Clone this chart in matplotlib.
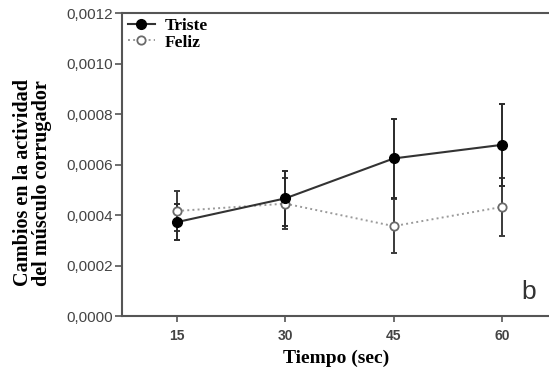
import numpy as np
import matplotlib
matplotlib.use('Agg')
import matplotlib.pyplot as plt

# data
tiempo = [15, 30, 45, 60]
triste = [0.000372, 0.000466, 0.000624, 0.000678]
triste_err = [0.000072, 0.000110, 0.000158, 0.000163]
feliz = [0.000416, 0.000445, 0.000356, 0.000432]
feliz_err = [0.000078, 0.000101, 0.000108, 0.000114]

y_ticks = [0.0, 0.0002, 0.0004, 0.0006, 0.0008, 0.0010, 0.0012]
y_tick_labels = ['0,0000', '0,0002', '0,0004', '0,0006', '0,0008', '0,0010', '0,0012']

serif = ['Liberation Serif', 'DejaVu Serif']
sans = ['Liberation Sans', 'DejaVu Sans']

fig = plt.figure(figsize=(5.49, 3.73), dpi=100)
ax = fig.add_axes([0.2231, 0.1528, 0.7769, 0.8123])

# Feliz: dotted light line, open grey circles
ax.errorbar(tiempo, feliz, yerr=feliz_err, fmt='none', ecolor='#3a3a3a',
            elinewidth=1.4, capsize=2.5, capthick=1.4, zorder=2)
ax.plot(tiempo, feliz, linestyle=':', color='#9a9a9a', linewidth=1.4,
        marker='o', markersize=6, markerfacecolor='white',
        markeredgecolor='#6a6a6a', markeredgewidth=1.3, label='Feliz', zorder=3)

# Triste: solid dark line, filled circles
ax.errorbar(tiempo, triste, yerr=triste_err, fmt='none', ecolor='#2a2a2a',
            elinewidth=1.4, capsize=2.5, capthick=1.4, zorder=2)
ax.plot(tiempo, triste, linestyle='-', color='#333333', linewidth=1.5,
        marker='o', markersize=7, markerfacecolor='black',
        markeredgecolor='black', label='Triste', zorder=4)

ax.set_xlim(7.45, 66.5)
ax.set_ylim(0, 0.0012)
ax.set_xticks(tiempo)
ax.set_xticklabels([str(t) for t in tiempo], family=sans, fontsize=10,
                   color='#444444', fontweight='bold')
ax.set_yticks(y_ticks)
ax.set_yticklabels(y_tick_labels, family=sans, fontsize=11, color='#444444')
ax.tick_params(axis='y', direction='out', length=5, width=1.2,
               color='#555555', pad=2)
ax.tick_params(axis='x', direction='out', length=4, width=1.2,
               color='#555555', pad=5)

for side in ['left', 'bottom', 'top']:
    ax.spines[side].set_color('#555555')
    ax.spines[side].set_linewidth(1.5)
ax.spines['right'].set_visible(False)

ax.set_xlabel('Tiempo (sec)', family=serif, fontweight='bold', fontsize=14,
              labelpad=5)
ax.set_ylabel('Cambios en la actividad\ndel músculo corrugador', family=serif,
              fontweight='bold', fontsize=14.5, linespacing=0.92)
ax.yaxis.set_label_coords(-0.165, 0.44)

handles, labels = ax.get_legend_handles_labels()
ax.legend(handles[::-1], labels[::-1], loc='upper left', frameon=False,
          prop={'family': serif, 'weight': 'bold', 'size': 12.5},
          handlelength=1.55, handletextpad=0.6, labelspacing=0.0,
          borderaxespad=0.1, borderpad=0.2)

ax.text(0.953, 0.078, 'b', transform=ax.transAxes, family=sans, fontsize=19,
        color='#333333', ha='center', va='center')

plt.savefig('out.png', dpi=100)
